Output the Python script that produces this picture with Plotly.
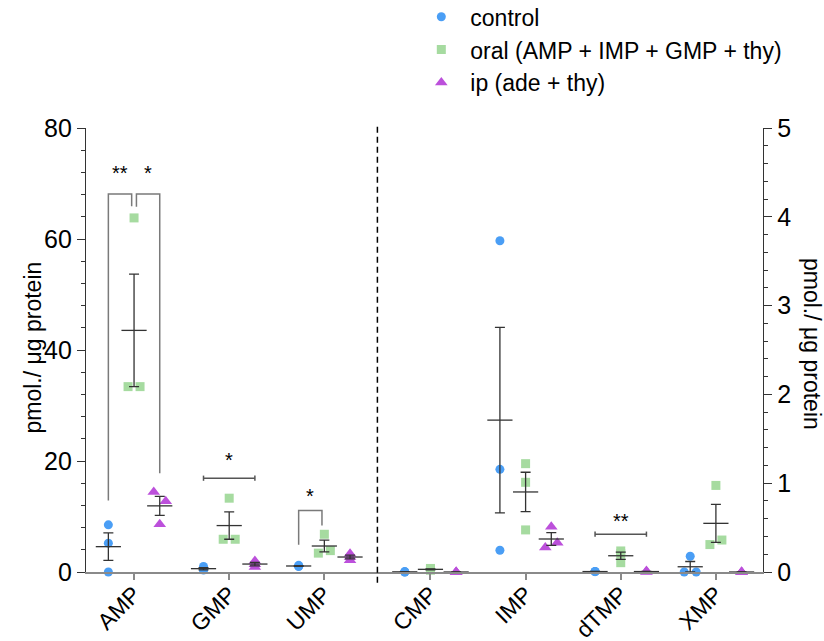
import numpy as np
import plotly.graph_objects as go

# ---------------- data ----------------
CATEGORIES = ["AMP", "GMP", "UMP", "CMP", "IMP", "dTMP", "XMP"]
AXIS_SIDE = ["left", "left", "left", "right", "right", "right", "right"]
SERIES_NAMES = ["control", "oral (AMP + IMP + GMP + thy)", "ip (ade + thy)"]

control = [[8.5, 5.2, 0.0], [1.0, 0.45, 0.35], [1.2, 1.05, 1.0],
           [0.0, 0.005, 0.0], [3.73, 1.156, 0.245], [0.005, 0.004, 0.006],
           [0.177, 0.0, 0.0]]
oral = [[63.8, 33.4, 33.4], [13.3, 5.9, 5.9], [6.8, 3.4, 3.85],
        [0.04, 0.02, 0.03], [1.22, 1.01, 0.474], [0.237, 0.207, 0.105],
        [0.975, 0.309, 0.36]]
ip = [[14.4, 12.75, 8.6], [2.0, 1.4, 0.9], [3.3, 2.7, 2.1],
      [0.0, 0.0, 0.0], [0.51, 0.275, 0.33], [0.01, 0.0, 0.005],
      [0.0, 0.0, 0.0]]
SERIES_VALUES = [control, oral, ip]

# significance comparisons: (category, group_from, group_to, top, leg_from, leg_to, label, label_y, kind)
COMPARISONS = [
    ("AMP", 0, 1, 68.1, 12.9, 65.9, "**", 71.9, "bracket"),
    ("AMP", 1, 2, 68.1, 65.8, 17.8, "*", 71.9, "bracket"),
    ("GMP", 0, 2, 16.9, None, None, "*", 20.1, "bar"),
    ("UMP", 0, 1, 11.1, 4.9, 8.4, "*", 13.7, "bracket"),
    ("dTMP", 0, 2, 0.426, None, None, "**", 0.575, "bar"),
]

# ---------------- style / layout ----------------
COLORS = ["#4A9EF5", "#A6DBA0", "#BC50DB"]
SYMBOLS = ["circle", "square", "triangle-up"]
SIZES = [9, 9, 11]
FONT = "Liberation Sans, Arial, sans-serif"
W, H = 824, 641
ML, MR, MT, MB = 86, 61, 128, 69
PW, PH = W - ML - MR, H - MT - MB
YMAX = {"left": 80, "right": 5}
GAP = 0.115
GROUP_OFF = [-0.27, 0.0, 0.27]
BRACKET_INSET = [0.0, 0.025, 0.0]

cat_x = [i + (GAP if s == "right" else 0.0) for i, s in enumerate(AXIS_SIDE)]
XR = [-0.505, cat_x[-1] + 0.495]
ppu_x = PW / (XR[1] - XR[0])


def spread(vals, ppu, thr_px=12.0, step_px=6.0):
    vals = np.asarray(vals, float)
    order = np.argsort(-vals, kind="stable")
    offs = np.zeros(len(vals))
    clusters, cur = [], [order[0]]
    for a, b in zip(order[:-1], order[1:]):
        if abs(vals[a] - vals[b]) * ppu < thr_px:
            cur.append(b)
        else:
            clusters.append(cur)
            cur = [b]
    clusters.append(cur)
    for c in clusters:
        if len(c) == 2:
            c = sorted(c)
            offs[c[0]] = -step_px / ppu_x
            offs[c[1]] = step_px / ppu_x
    return offs


fig = go.Figure()

for side, yax in (("left", "y"), ("right", "y2")):
    ppu_y = PH / YMAX[side]
    for g, (name, vals) in enumerate(zip(SERIES_NAMES, SERIES_VALUES)):
        xs, ys, mx, my, se = [], [], [], [], []
        for i, cat in enumerate(CATEGORIES):
            if AXIS_SIDE[i] != side:
                continue
            v = np.asarray(vals[i], float)
            offs = spread(v, ppu_y)
            xs += list(cat_x[i] + GROUP_OFF[g] + offs)
            ys += list(v)
            mx.append(cat_x[i] + GROUP_OFF[g])
            my.append(v.mean())
            se.append(v.std(ddof=1) / np.sqrt(len(v)))
        fig.add_trace(go.Scatter(
            x=xs, y=ys, mode="markers", yaxis=yax, name=name,
            legendgroup=name, showlegend=(side == "left"), cliponaxis=False,
            marker=dict(symbol=SYMBOLS[g], size=SIZES[g], color=COLORS[g],
                        line=dict(width=0))))
        fig.add_trace(go.Scatter(
            x=mx, y=my, mode="markers", yaxis=yax, showlegend=False,
            cliponaxis=False, hoverinfo="skip",
            marker=dict(symbol="line-ew", size=18, color="#333333",
                        line=dict(width=1.3, color="#333333")),
            error_y=dict(type="data", array=se, visible=True,
                         color="#333333", thickness=1.3, width=5)))

shapes, annotations = [], []
for cat, g0, g1, top, l0, l1, label, ly, kind in COMPARISONS:
    i = CATEGORIES.index(cat)
    yref = "y" if AXIS_SIDE[i] == "left" else "y2"
    x0 = cat_x[i] + GROUP_OFF[g0] + (BRACKET_INSET[g0] if g0 == 1 else 0.0)
    x1 = cat_x[i] + GROUP_OFF[g1] - (BRACKET_INSET[g1] if g1 == 1 else 0.0)
    if kind == "bracket":
        path = f"M {x0} {l0} L {x0} {top} L {x1} {top} L {x1} {l1}"
        shapes.append(dict(type="path", path=path, xref="x", yref=yref,
                           line=dict(color="#7a7a7a", width=1.5)))
    else:
        cap = 2.6 / (PH / YMAX[AXIS_SIDE[i]])
        shapes.append(dict(type="line", xref="x", yref=yref, x0=x0, x1=x1,
                           y0=top, y1=top, line=dict(color="#555555", width=1.5)))
        for xx in (x0, x1):
            shapes.append(dict(type="line", xref="x", yref=yref, x0=xx, x1=xx,
                               y0=top - cap, y1=top + cap,
                               line=dict(color="#555555", width=1.5)))
    annotations.append(dict(x=(x0 + x1) / 2, y=ly, xref="x", yref=yref,
                            text=label, showarrow=False, yanchor="middle",
                            font=dict(family=FONT, size=20, color="black")))

# dashed separator between left and right groups
sep_x = (cat_x[2] + cat_x[3]) / 2
shapes.append(dict(type="line", xref="x", yref="paper", x0=sep_x, x1=sep_x,
                   y0=-0.024, y1=1.012,
                   line=dict(color="black", width=1.5, dash="6px,4px")))

title = "pmol./ μg protein"
annotations.append(dict(text=title, x=(32 - ML) / PW, y=(H - MB - 347.5) / PH,
                        xref="paper", yref="paper", showarrow=False,
                        textangle=-90, xanchor="center", yanchor="middle",
                        font=dict(family=FONT, size=23, color="black")))
annotations.append(dict(text=title, x=(812 - ML) / PW, y=(H - MB - 344) / PH,
                        xref="paper", yref="paper", showarrow=False,
                        textangle=90, xanchor="center", yanchor="middle",
                        font=dict(family=FONT, size=23, color="black")))

yaxis_common = dict(showgrid=False, zeroline=False, showline=True,
                    linecolor="#333333", linewidth=1.3, ticks="outside",
                    ticklen=8, tickwidth=1.3, tickcolor="#333333",
                    automargin=False,
                    tickfont=dict(family=FONT, size=25, color="black"))

fig.update_layout(
    width=W, height=H, autosize=False,
    margin=dict(l=ML, r=MR, t=MT, b=MB, pad=0, autoexpand=False),
    paper_bgcolor="white", plot_bgcolor="white",
    font=dict(family=FONT, color="black"),
    xaxis=dict(range=XR, tickmode="array", tickvals=cat_x, ticktext=CATEGORIES,
               tickangle=-45, showgrid=False, zeroline=False, showline=True,
               linecolor="#8a8a8a", linewidth=1.5, ticks="outside", ticklen=6,
               tickwidth=1.5, tickcolor="#8a8a8a", automargin=False,
               ticklabelstandoff=-8,
               tickfont=dict(family=FONT, size=23, color="black")),
    yaxis=dict(range=[0, YMAX["left"]], dtick=20, tick0=0,
               minor=dict(dtick=4, ticks="outside", ticklen=4, tickwidth=1,
                          tickcolor="#333333", showgrid=False),
               **yaxis_common),
    yaxis2=dict(range=[0, YMAX["right"]], dtick=1, tick0=0, overlaying="y",
                side="right", anchor="x",
                minor=dict(dtick=0.2, ticks="outside", ticklen=4, tickwidth=1,
                           tickcolor="#333333", showgrid=False),
                **yaxis_common),
    legend=dict(x=0.482, y=1.299, xanchor="left", yanchor="top",
                font=dict(family=FONT, size=23, color="black"),
                itemwidth=48, tracegroupgap=9, bgcolor="rgba(0,0,0,0)",
                traceorder="normal"),
    shapes=shapes, annotations=annotations,
)

fig.write_html("out.html")
